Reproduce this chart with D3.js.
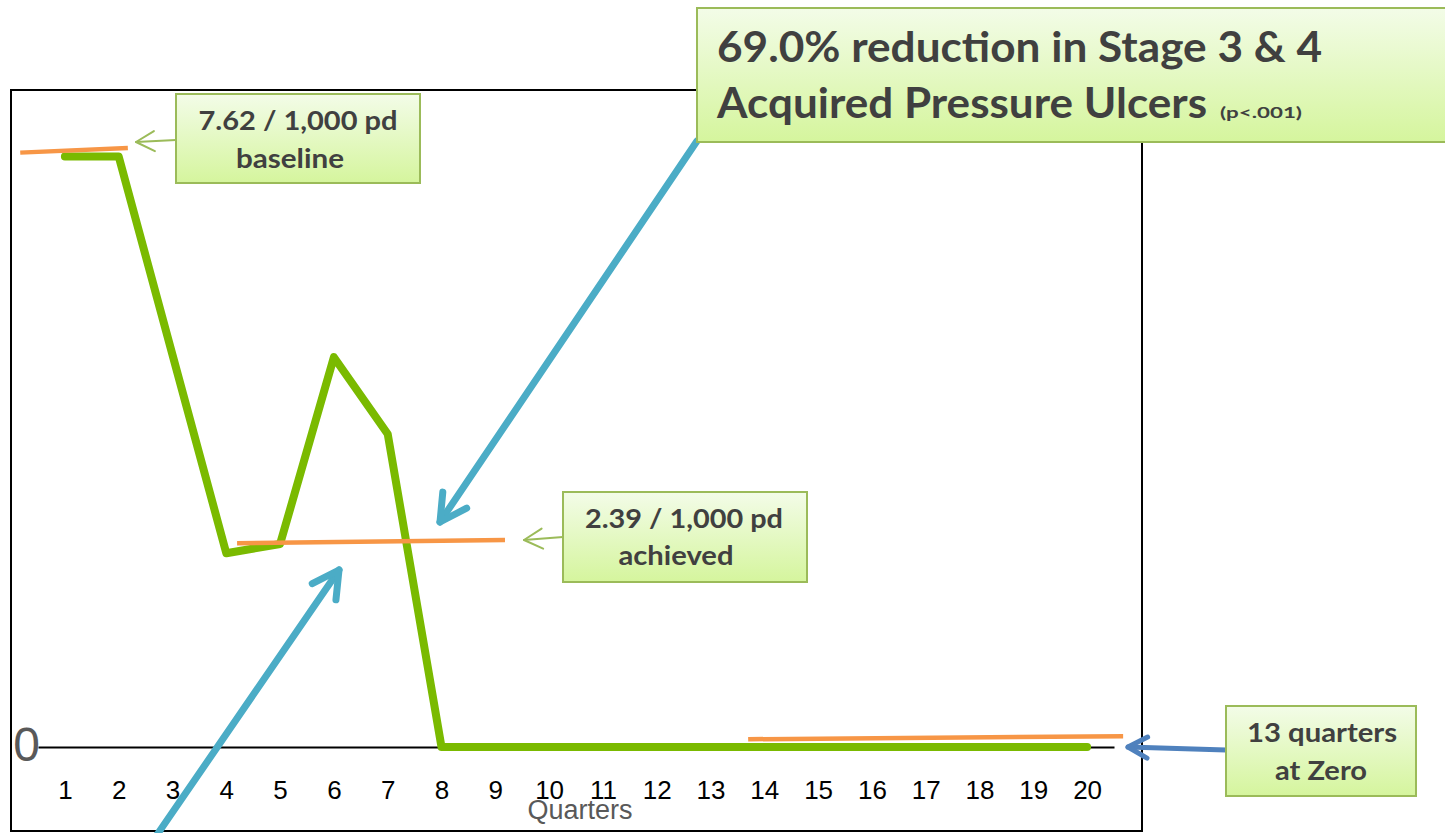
<!DOCTYPE html>
<html>
<head>
<meta charset="utf-8">
<script src="https://cdn.jsdelivr.net/npm/d3@7/dist/d3.min.js"></script>
<style>
  html, body { margin: 0; padding: 0; background: #fff; }
  svg { display: block; }
</style>
</head>
<body>
<script>
// ---------- data ----------
const quarters = d3.range(1, 21);                     // tick labels 1..20
const rates = [7.62, 7.62, 5.06, 2.50, 2.62, 5.03, 4.04, 0, 0, 0,
               0, 0, 0, 0, 0, 0, 0, 0, 0, 0];          // per 1,000 patient days
const yTickLabels = ["0"];
// orange reference lines (hand-drawn annotations): [x0, y0, x1, y1] in data units
const refBaseline = [0.17, 7.67, 2.17, 7.73];
const refAchieved = [4.20, 2.63, 9.18, 2.67];
const refZero     = [13.70, 0.10, 20.67, 0.14];
const titleLine1 = "69.0% reduction in Stage 3 & 4";
const titleLine2 = "Acquired Pressure Ulcers";
const titleNote  = "(p<.001)";
const callBaseline = ["7.62 / 1,000 pd", "baseline"];
const callAchieved = ["2.39 / 1,000 pd", "achieved"];
const callZero     = ["13 quarters", "at Zero"];
const xAxisTitle = "Quarters";

// ---------- setup ----------
const W = 1445, H = 833;
const svg = d3.select("body").append("svg").attr("width", W).attr("height", H);
const defs = svg.append("defs");
const grad = defs.append("linearGradient").attr("id", "boxGrad")
  .attr("x1", 0).attr("y1", 0).attr("x2", 0).attr("y2", 1);
grad.append("stop").attr("offset", "0%").attr("stop-color", "#f3fce8");
grad.append("stop").attr("offset", "100%").attr("stop-color", "#d5f59d");

const x = d3.scaleLinear().domain([0.5, 20.5]).range([38, 1114]);
const y = d3.scaleLinear().domain([0, 7.62]).range([747, 156.5]);

// frame
svg.append("rect").attr("x", 11).attr("y", 90).attr("width", 1131).attr("height", 741)
  .attr("fill", "none").attr("stroke", "#000").attr("stroke-width", 2);

// x axis
const xAxis = d3.axisBottom(x).tickValues(quarters).tickSize(0).tickPadding(33.5)
  .tickFormat(d3.format("d"));
const gx = svg.append("g").attr("transform", `translate(0,${y(0)})`).call(xAxis);
gx.select(".domain").attr("stroke", "#000").attr("stroke-width", 2);
gx.selectAll(".tick text").attr("font-family", "Liberation Sans, Arial, sans-serif")
  .attr("font-size", 26).attr("fill", "#000");

// y axis: only the "0" label
const yAxis = d3.axisLeft(y).tickValues([0]).tickSize(0).tickPadding(0)
  .tickFormat((d, i) => yTickLabels[i]);
const gy = svg.append("g").attr("transform", `translate(${x(0.5)},0)`).call(yAxis);
gy.select(".domain").remove();
gy.selectAll(".tick text").attr("font-family", "Liberation Sans, Arial, sans-serif")
  .attr("font-size", 48).attr("fill", "#595959").attr("dy", "0.28em").attr("dx", "2");

// x axis title
svg.append("text").attr("x", 580).attr("y", 819).attr("text-anchor", "middle")
  .attr("font-family", "Liberation Sans, Arial, sans-serif").attr("font-size", 27)
  .attr("fill", "#595959").text(xAxisTitle);

// green data line
const line = d3.line().x((d, i) => x(quarters[i])).y(d => y(d));
svg.append("path").datum(rates).attr("d", line)
  .attr("fill", "none").attr("stroke", "#7aba00").attr("stroke-width", 8)
  .attr("stroke-linejoin", "round").attr("stroke-linecap", "round");

// orange reference lines
[refBaseline, refAchieved, refZero].forEach(r => {
  svg.append("line").attr("x1", x(r[0])).attr("y1", y(r[1]))
    .attr("x2", x(r[2])).attr("y2", y(r[3]))
    .attr("stroke", "#f79646").attr("stroke-width", 4.5);
});

// arrow helper: shaft + chevron head
function arrow(x0, y0, x1, y1, color, width, headLen, spread) {
  const g = svg.append("g").attr("fill", "none").attr("stroke", color)
    .attr("stroke-width", width).attr("stroke-linecap", "round").attr("stroke-linejoin", "round");
  g.append("line").attr("x1", x0).attr("y1", y0).attr("x2", x1).attr("y2", y1);
  const a = Math.atan2(y0 - y1, x0 - x1);
  const p1 = [x1 + headLen * Math.cos(a + spread), y1 + headLen * Math.sin(a + spread)];
  const p2 = [x1 + headLen * Math.cos(a - spread), y1 + headLen * Math.sin(a - spread)];
  g.append("path").attr("d", `M${p1[0]},${p1[1]}L${x1},${y1}L${p2[0]},${p2[1]}`);
}

// teal arrows
arrow(697, 141, 440, 522, "#4bacc6", 7, 30, 0.5);
arrow(150, 845, 339, 570, "#4bacc6", 7, 30, 0.5);

// callout pointer arrows
arrow(176, 140, 136, 142, "#9bbb59", 2, 21, 0.5);
arrow(563, 537, 524, 540, "#9bbb59", 2, 21, 0.5);
arrow(1226, 750, 1128, 747, "#4f81bd", 5, 22, 0.5);

// callout boxes
function box(x0, y0, w, h) {
  svg.append("rect").attr("x", x0).attr("y", y0).attr("width", w).attr("height", h)
    .attr("fill", "url(#boxGrad)").attr("stroke", "#9bbb59").attr("stroke-width", 2);
}
const FONT = "Lato, 'Open Sans', sans-serif";
// size text from cap height, then fit exact width
function fitText(tx, ty, str, targetW, capH, anchor) {
  const t = svg.append("text").attr("x", tx).attr("y", ty)
    .attr("text-anchor", anchor || "middle").attr("font-family", FONT)
    .attr("font-weight", 700).attr("fill", "#404040")
    .attr("font-size", capH / 0.72).text(str);
  if (targetW) t.attr("textLength", targetW).attr("lengthAdjust", "spacingAndGlyphs");
  return t;
}

box(176, 94, 244, 89);
fitText(298, 130, callBaseline[0], 199, 18.5);
fitText(290, 168, callBaseline[1], 108, 18.5);

box(563, 492, 244, 90);
fitText(684, 528, callAchieved[0], 198, 19);
fitText(676, 565, callAchieved[1], 115, 19);

box(1226, 706, 190, 90);
fitText(1322, 742, callZero[0], 150, 19);
fitText(1321, 780, callZero[1], 92, 19);

box(697, 8, 800, 134);
fitText(717, 62, titleLine1, 605, 30, "start");
fitText(717, 118, titleLine2, 490, 30, "start");
fitText(1220, 118, titleNote, 82, 11.5, "start");
</script>
</body>
</html>
